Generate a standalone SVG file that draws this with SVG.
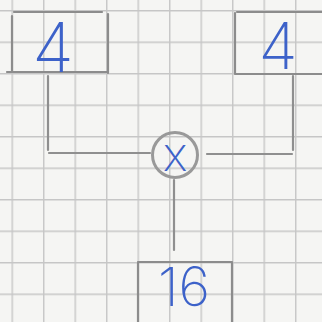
<svg xmlns="http://www.w3.org/2000/svg" width="322" height="322" viewBox="0 0 322 322">
  <defs>
    <pattern id="grid" patternUnits="userSpaceOnUse" x="11.5" y="10" width="31.5" height="31.5">
      <path d="M0.75 0 V31.5 M0 0.75 H31.5" fill="none" stroke="#c6c6c6" stroke-width="1.4"/>
    </pattern>
  </defs>
  <style>
    .box { fill: none; stroke: #8c8c8c; stroke-width: 2.2; stroke-linecap: round; }
    .wire { fill: none; stroke: #8f8f8f; stroke-width: 2.2; stroke-linecap: round; }
    .num { font-family: Inter, "DejaVu Sans", sans-serif; font-weight: 250; fill: #3d62c9; text-anchor: middle; }
  </style>
  <rect width="322" height="322" fill="#f5f5f3"/>
  <rect width="322" height="322" fill="url(#grid)"/>

  <g id="connectors">
    <path class="wire" d="M48 76 V150 M49 153 H150"/>
    <path class="wire" d="M293 76 V150 M292 154 H207"/>
    <path class="wire" d="M174 180 V250"/>
  </g>

  <g id="node-left">
    <path class="box" d="M14 12 H102 M12 16 V72 M108 14 V73 M7 72 H107"/>
    <text class="num" x="53" y="72" font-size="68">4</text>
  </g>

  <g id="node-right">
    <path class="box" d="M237 12 H322 M235 13 V73 M235 74 H322"/>
    <text class="num" x="278" y="69" font-size="64">4</text>
  </g>

  <g id="node-mult">
    <circle cx="175" cy="155" r="22.5" fill="none" stroke="#999" stroke-width="3"/>
    <text class="num" x="175" y="171" font-size="48">x</text>
  </g>

  <g id="node-result">
    <path class="box" d="M138 262 H232 M138 263 V322 M232 263 V322"/>
    <text class="num" x="184" y="306" font-size="54">16</text>
  </g>
</svg>
